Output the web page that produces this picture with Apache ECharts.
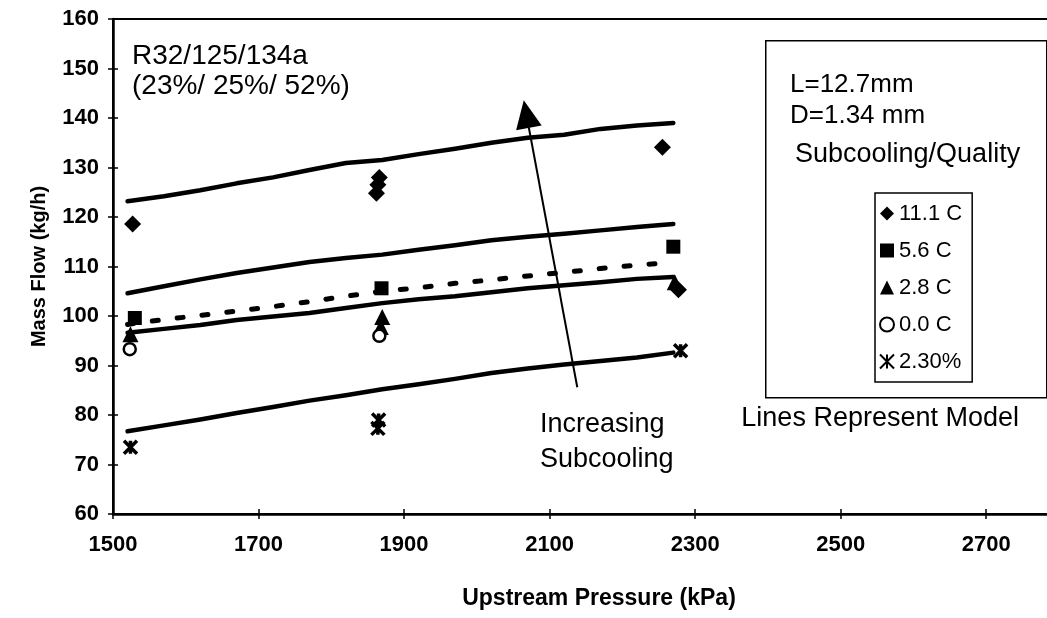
<!DOCTYPE html>
<html><head><meta charset="utf-8">
<script src="https://cdn.jsdelivr.net/npm/echarts@6/dist/echarts.min.js"></script>
<style>html,body{margin:0;padding:0;background:#fff}#c{width:1047px;height:618px}</style>
</head><body><div id="c"></div>
<script>
// ---- model lines (kPa -> kg/h) ----
const modelPressure = [1520,1570,1620,1670,1720,1770,1820,1870,1920,1970,2020,2070,2120,2170,2220,2270];
const modelLine1 = [123.2,124.2,125.4,126.8,128.0,129.5,130.9,131.5,132.7,133.8,135.0,136.0,136.6,137.8,138.5,139.0];
const modelLine2 = [104.6,106.0,107.4,108.7,109.8,110.9,111.7,112.4,113.4,114.3,115.3,116.0,116.6,117.3,118.0,118.6];
const modelLine3 = [98.3,99.3,100.1,101.0,101.9,102.9,104.0,105.0,105.7,106.6,107.3,108.1,108.8,109.6,110.3,110.8]; // dashed
const modelLine4 = [96.6,97.4,98.2,99.2,99.9,100.6,101.6,102.6,103.4,104.0,104.8,105.6,106.2,106.8,107.5,107.9];
const modelLine5 = [76.7,77.9,79.1,80.4,81.6,82.9,84.0,85.2,86.2,87.3,88.5,89.4,90.2,90.9,91.6,92.6];

// ---- measured points [pressure kPa, mass flow kg/h] ----
const pts111 = [[1527,118.6],[1862,124.8],[1864,126.5],[1866,128.0],[2255,134.1],[2277,105.3]];
const pts56  = [[1530,99.6],[1869,105.6],[2270,114.0]];
const pts28  = [[1524,96.3],[1868,97.8],[1870,99.8],[2272,106.8]];
const pts00  = [[1523,93.3],[1866,96.0]];
const pts230 = [[1524,73.5],[1865,79.0],[1864,77.3],[2280,93.0]];
const seriesNames = ['11.1 C','5.6 C','2.8 C','0.0 C','2.30%'];

// ---- arrow annotation (data coords) ----
const arrowFrom = [2138,85.6];
const arrowTo = [2068,140.8];

const FONT = '"Liberation Sans", Arial, sans-serif';
const starPath = 'path://M0,0L10,10M10,0L0,10M5,0L5,10';

function zip(xs, ys){ return xs.map((x,i)=>[x,ys[i]]); }

const chart = echarts.init(document.getElementById('c'), null, {renderer:'canvas'});
const lineBase = {type:'line', showSymbol:false, symbol:'none', silent:true, smooth:false,
  lineStyle:{color:'#000', width:4.5, cap:'round', join:'round', opacity:1}, z:2};

const option = {
  animation:false,
  backgroundColor:'#fff',
  textStyle:{fontFamily:FONT, color:'#000'},
  grid:{left:113, right:-12, top:19, bottom:104, show:true, borderColor:'#000', borderWidth:2,
        containLabel:false, outerBoundsMode:'none'},
  xAxis:[{
    type:'value', min:1500, max:2800, interval:200,
    axisLine:{lineStyle:{color:'#000', width:2.5}},
    axisTick:{show:true, length:5, lineStyle:{color:'#000', width:1.5}},
    splitLine:{show:false},
    axisLabel:{color:'#000', fontSize:22, fontWeight:'bold', fontFamily:FONT, margin:20,
      showMaxLabel:false, formatter:function(v){ return v >= 2800 ? '' : String(v); }},
    name:'Upstream Pressure (kPa)', nameLocation:'middle', nameGap:73,
    nameTextStyle:{color:'#000', fontSize:23, fontWeight:900, fontFamily:FONT, padding:[0,0,0,26]}
  },{
    type:'value', min:1500, max:2800, interval:200, position:'bottom',
    axisLine:{show:false}, axisLabel:{show:false}, splitLine:{show:false},
    axisTick:{show:true, inside:true, length:5, lineStyle:{color:'#000', width:1.5}}
  }],
  yAxis:[{
    type:'value', min:60, max:160, interval:10,
    axisLine:{show:true, lineStyle:{color:'#000', width:2.5}},
    axisTick:{show:true, length:5, lineStyle:{color:'#000', width:1.5}},
    splitLine:{show:false},
    axisLabel:{color:'#000', fontSize:22, fontWeight:'bold', fontFamily:FONT, margin:14,
      formatter:function(v){ return String(v); }},
    name:'Mass Flow (kg/h)', nameLocation:'middle', nameGap:64, nameRotate:90,
    nameTextStyle:{color:'#000', fontSize:20, fontWeight:900, fontFamily:FONT}
  },{
    type:'value', min:60, max:160, interval:10, position:'left', offset:0,
    axisLine:{show:false}, axisLabel:{show:false}, splitLine:{show:false},
    axisTick:{show:true, inside:true, length:5, lineStyle:{color:'#000', width:1.5}}
  }],
  legend:{
    data:seriesNames, orient:'vertical', left:875, top:193,
    backgroundColor:'#fff', borderColor:'#000', borderWidth:1.5,
    padding:[9,10,9,4], itemGap:14, itemWidth:14, itemHeight:14,
    textStyle:{fontSize:22, fontFamily:FONT, color:'#000', lineHeight:23},
    itemStyle:{opacity:1},
    selectedMode:false
  },
  graphic:[
    {type:'rect', left:765, top:40, shape:{width:281, height:357}, z:0,
     style:{fill:'#fff', stroke:'#000', lineWidth:1.5}},
    {type:'text', left:132, top:41, z:10, style:{text:'R32/125/134a\n(23%/ 25%/ 52%)', font:'28px '+FONT, fill:'#000', lineHeight:30}},
    {type:'text', left:790, top:69, z:10, style:{text:'L=12.7mm\nD=1.34 mm', font:'26px '+FONT, fill:'#000', lineHeight:31}},
    {type:'text', left:795, top:141, z:10, style:{text:'Subcooling/Quality', font:'27px '+FONT, fill:'#000'}},
    {type:'text', left:540, top:407, z:10, style:{text:'Increasing\nSubcooling', font:'27px '+FONT, fill:'#000', lineHeight:35}},
    {type:'text', right:28, top:405, z:10, style:{text:'Lines Represent Model', font:'27px '+FONT, fill:'#000', align:'right'}}
  ],
  series:[
    Object.assign({}, lineBase, {name:'model1', data:zip(modelPressure, modelLine1)}),
    Object.assign({}, lineBase, {name:'model2', data:zip(modelPressure, modelLine2)}),
    Object.assign({}, lineBase, {name:'model3', data:zip(modelPressure, modelLine3),
      lineStyle:{color:'#000', width:5, type:[6,19], cap:'round', opacity:1}}),
    Object.assign({}, lineBase, {name:'model4', data:zip(modelPressure, modelLine4)}),
    Object.assign({}, lineBase, {name:'model5', data:zip(modelPressure, modelLine5)}),
    {type:'line', name:'arrow', data:[], silent:true,
     markLine:{silent:true, animation:false, symbol:['none','triangle'], symbolSize:[26,28],
       label:{show:false}, lineStyle:{color:'#000', width:2, type:'solid', opacity:1},
       itemStyle:{color:'#000', opacity:1},
       data:[[{coord:arrowFrom},{coord:arrowTo}]]}},
    {type:'scatter', name:seriesNames[0], data:pts111, symbol:'diamond', symbolSize:17, z:5,
     itemStyle:{color:'#000', opacity:1}},
    {type:'scatter', name:seriesNames[1], data:pts56, symbol:'rect', symbolSize:14, z:5,
     itemStyle:{color:'#000', opacity:1}},
    {type:'scatter', name:seriesNames[2], data:pts28, symbol:'triangle', symbolSize:16, z:5,
     itemStyle:{color:'#000', opacity:1}},
    {type:'scatter', name:seriesNames[3], data:pts00, symbol:'circle', symbolSize:12, z:5,
     itemStyle:{color:'#fff', borderColor:'#000', borderWidth:2.5, opacity:1}},
    {type:'scatter', name:seriesNames[4], data:pts230, symbol:starPath, symbolSize:13, z:5,
     itemStyle:{color:'rgba(0,0,0,0)', borderColor:'#000', borderWidth:3.5, opacity:1}}
  ]
};
chart.setOption(option);
</script></body></html>
